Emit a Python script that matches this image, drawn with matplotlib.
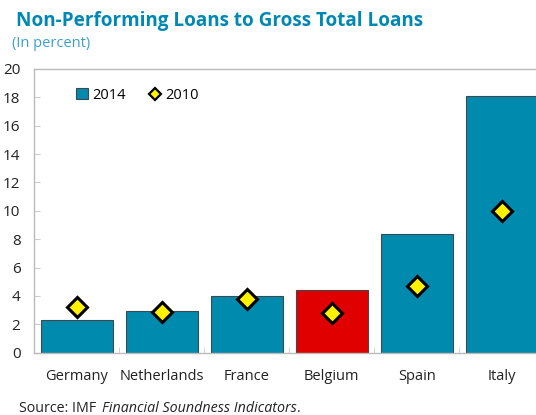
import numpy as np
import matplotlib.pyplot as plt
from matplotlib.lines import Line2D
from matplotlib.patches import Patch

countries = ["Germany", "Netherlands", "France", "Belgium", "Spain", "Italy"]
npl_2014 = [2.3, 2.95, 4.0, 4.4, 8.4, 18.1]
npl_2010 = [3.2, 2.85, 3.8, 2.8, 4.7, 10.0]
bar_colors = ["#008AAE", "#008AAE", "#008AAE", "#E00000", "#008AAE", "#008AAE"]
yticks = [0, 2, 4, 6, 8, 10, 12, 14, 16, 18, 20]

plt.rcParams['font.family'] = ['Open Sans', 'DejaVu Sans']

fig = plt.figure(figsize=(5.36, 4.15), dpi=100)
# axes runs past the right edge, the Italy bar is cut off in the original
ax = fig.add_axes([0.064, 0.15, 0.9515, 0.684])

x = np.arange(len(countries))
ax.bar(x, npl_2014, width=0.84, color=bar_colors, edgecolor="#3c4a50", linewidth=0.8, zorder=2)
ax.plot(x, npl_2010, linestyle="none", marker="D", markersize=10.5,
        markerfacecolor="#FFF200", markeredgecolor="black", markeredgewidth=2.2, zorder=3)

ax.set_xlim(-0.5, len(countries) - 0.5)
ax.set_ylim(0, 20)
ax.set_yticks(yticks)
ax.set_yticklabels([str(t) for t in yticks], fontsize=11, color="#222222")
ax.set_xticks(x)
ax.set_xticklabels(countries, fontsize=10.5, color="#222222")
ax.tick_params(axis="x", length=0, pad=12)
ax.tick_params(axis="y", direction="in", length=4, color="#cccccc", pad=10)
ax.set_xticks(np.arange(0.5, len(countries) - 0.5), minor=True)
ax.tick_params(axis="x", which="minor", direction="in", length=4, color="#cccccc")

for s in ["left", "bottom", "top"]:
    ax.spines[s].set_color("#bbbbbb")
    ax.spines[s].set_linewidth(1)
ax.spines["right"].set_visible(False)

handles = [Patch(facecolor="#008AAE", edgecolor="#3c4a50", linewidth=0.8),
           Line2D([], [], linestyle="none", marker="D", markersize=6.5,
                  markerfacecolor="#FFF200", markeredgecolor="black", markeredgewidth=1.6)]
ax.legend(handles, ["2014", "2010"], ncol=2, loc="upper left", bbox_to_anchor=(0.056, 0.98),
          frameon=False, fontsize=10.5, handlelength=0.8, handletextpad=0.3, columnspacing=1.6)

fig.text(0.03, 0.949, "Non-Performing Loans to Gross Total Loans", fontsize=13.6,
         fontweight="bold", color="#0088B5", va="center", ha="left")
fig.text(0.022, 0.895, "(In percent)", fontsize=10.5, color="#3DA0CC", va="center", ha="left")

# source line: regular + italic + period, placed one after another
fig.canvas.draw()
renderer = fig.canvas.get_renderer()
inv = fig.transFigure.inverted()
xpos = 0.036
for part, st in [("Source: IMF ", "normal"), ("Financial Soundness Indicators", "italic"), (".", "normal")]:
    t = fig.text(xpos, 0.016, part, fontsize=10.3, style=st, color="#222222", va="center", ha="left")
    bb = t.get_window_extent(renderer)
    xpos = inv.transform((bb.x1, bb.y1))[0]
    if part.endswith(" "):
        xpos += 0.004

fig.savefig("out.png", dpi=100)
